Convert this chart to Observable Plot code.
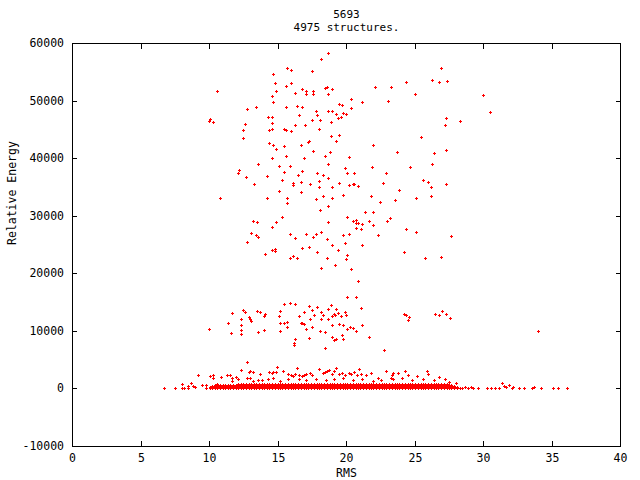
<!DOCTYPE html>
<html><head><meta charset="utf-8">
<script src="https://cdn.jsdelivr.net/npm/d3@7"></script>
<script src="https://cdn.jsdelivr.net/npm/@observablehq/plot@0.6"></script>
<style>html,body{margin:0;padding:0;background:#fff}svg{display:block}</style>
</head><body><div id="chart"></div>
<script>
const title = "5693";
const subtitle = "4975 structures.";
const xLabel = "RMS";
const yLabel = "Relative Energy";
const xTicks = [0, 5, 10, 15, 20, 25, 30, 35, 40];
const yTicks = [-10000, 0, 10000, 20000, 30000, 40000, 50000, 60000];

// scattered high-energy structures [RMS, energy]
const upperPoints = [
[14.7,54700],[15.7,55600],[16.0,55300],[17.5,55100],[14.8,53000],[16.0,53100],[15.6,52600],[10.6,51700],[14.9,51700],[16.8,52000],[17.1,51700],[17.1,51100],[17.6,51700],[17.6,51200],[16.3,51300],[14.6,50800],[14.7,49700],[15.6,48900],[16.4,49000],[16.8,48900],[13.4,48900],[12.8,48500],[17.8,48200],[16.6,47500],[17.9,47500],[14.3,47100],[14.6,47100],[10.1,46800],[10.0,46400],[10.3,46300],[12.6,45900],[14.6,46100],[17.5,46600],[16.3,45700],[17.0,45700],[12.5,44900],[14.4,44900],[14.6,45000],[15.5,45000],[15.6,44900],[16.0,44700],[12.5,43500],[18.0,45000],
[14.4,42600],[14.7,42300],[15.5,42100],[16.7,42300],[17.2,42800],[17.3,43000],[14.9,41600],[17.6,41200],[14.6,40000],[15.6,40400],[16.9,40000],[13.6,39000],[15.1,38600],[15.9,38600],[12.2,37900],[12.1,37400],[15.5,37600],[16.8,37700],[17.9,37400],[12.7,36700],[14.2,36900],[16.5,37000],[15.3,36200],[16.1,35700],[16.1,35300],[16.7,35800],[17.4,35500],[18.0,36000],[18.0,35000],[13.3,35500],[15.1,34300],[16.7,34100],[10.8,33100],[14.2,33100],[15.7,33100],[15.7,32200],[17.8,32900],[15.3,29800],[13.2,29100],[13.5,28900],[14.9,28900],[14.6,28000],[13.1,27000],[13.4,26600],[13.6,26300],[15.9,26800],[16.3,26100],[17.1,26800],[17.8,26800],[17.6,26300],[12.8,25400],[16.8,24400],[17.3,24500],[17.9,23700],[14.8,24200],[14.8,23800],[14.6,24000],[14.1,23300],[15.9,22600],[16.1,23000],[16.4,22600],
[18.7,58300],[18.2,57200],[26.9,55600],[24.4,53200],[26.3,53600],[26.8,53200],[27.4,53400],[18.5,52200],[18.6,52300],[19.0,52000],[22.1,52300],[23.3,52300],[18.7,51100],[25.0,51100],[30.0,51000],[20.4,50300],[21.2,49700],[23.1,49900],[19.5,49400],[19.7,49200],[20.4,48700],[18.7,48200],[19.0,48200],[30.5,48000],[19.3,47700],[19.8,47800],[20.0,47700],[19.6,47100],[19.4,47000],[18.1,46600],[18.9,46300],[27.3,47000],[28.3,46400],[27.2,45700],[18.9,43800],[19.5,44000],[19.3,43000],[25.5,43700],[22.0,42300],[27.3,41400],
[23.7,41100],[26.4,40900],[18.8,41100],[18.5,40400],[20.2,40200],[18.7,39000],[19.9,38300],[21.9,38400],[24.7,38400],[26.3,39000],[20.1,37400],[20.6,37400],[22.9,37400],[18.3,37100],[18.7,36500],[25.6,36200],[26.0,35800],[26.2,35000],[27.3,35500],[19.5,35700],[20.2,35300],[20.5,35500],[20.6,35500],[20.9,35100],[22.7,35700],[19.0,35000],[23.9,34400],[18.3,33400],[19.0,33100],[19.8,33600],[21.8,33400],[25.1,33100],[26.2,33400],[23.6,32700],[22.5,32400],[18.7,31700],[18.1,31000],[21.4,30600],[22.0,30600],[20.1,29800],[20.5,29100],[20.7,29200],[20.7,28700],[20.9,28700],[21.2,28500],[21.7,29100],[22.0,28400],[23.0,29100],[23.2,29600],[18.7,28900],[20.7,27800],[21.1,27700],[24.4,27700],[25.1,27100],[18.2,27100],[19.8,26600],[20.2,26800],[22.3,26600],[27.7,26500],[18.6,25900],[19.0,24900],[19.9,25200],[21.2,24900],[19.4,24000],[20.1,23200],[18.6,22600],[20.0,22500],[24.2,23700],[25.8,22600],[26.9,22800],[19.2,21400],[18.2,20900],[20.4,20700],[20.9,18700]
];

// cluster around 10000
const midPoints = [
[10.0,10300],[11.4,11300],[11.6,9600],[11.7,13100],[12.3,12000],[12.3,11000],[12.3,10100],[12.3,9400],[12.5,13600],[12.6,13200],[12.9,12400],[13.0,12000],[13.1,11700],[13.5,13400],[13.7,13200],[13.6,9800],[14.0,12500],[14.1,12900],[14.0,10100],[15.1,12500],[15.2,13400],[15.2,11300],[15.5,14600],[15.9,14800],[16.3,14600],[15.5,11300],[15.7,11500],[15.7,10600],[15.2,9900],[16.3,8600],[16.2,7900],[16.2,7500],[16.6,12500],[16.7,11300],[16.8,11300],[16.9,11200],[16.9,13200],[17.1,10300],[17.3,14300],[17.3,8700],[17.5,13600],[17.4,12000],[17.5,10600],[17.7,12700],[17.9,14100],[18.1,9900],[18.2,13200],[18.3,12700],[18.2,12000],[18.5,9800],[18.7,13800],[18.9,14500],[18.7,12000],[19.0,11000],[19.0,12500],[19.1,12900],[19.2,12700],[19.3,13800],[19.4,13100],[19.0,8900],[19.1,8400],[19.3,8600],[19.5,11200],[19.8,11000],[19.7,9200],[19.8,8600],[19.6,12500],[19.9,13200],[20.0,12700],[20.1,10300],[20.3,10600],[20.5,10500],[20.7,9900],[20.1,15900],[20.7,15900],[21.1,13900],[21.2,11000],[21.7,8900],[18.5,7000],[22.8,6700],
[24.2,13000],[24.4,12700],[24.6,12400],[24.5,11900],[26.5,13000],[26.8,12700],[27.0,13400],[27.3,12900],[27.6,12300],[34.0,10000]
];

// low-energy structures just above the dense band
const lowPoints = [
[9.2,2360],[10.05,2190],[10.3,2360],[10.3,1840],[10.6,800],[10.9,2010],[11.3,2360],[11.5,2360],[11.7,1840],[12.0,2010],[12.3,3230],[12.8,4620],[12.9,2880],[13.0,3060],[13.2,2880],[12.8,1840],[13.0,1840],[13.55,1490],[13.7,2540],[14.35,2880],[14.6,2710],[14.7,2880],[14.9,2880],[14.95,3750],[15.4,3060],[15.8,2540],[16.0,2360],[16.1,2190],[16.25,2540],[16.4,3580],[16.55,2360],[16.8,2190],[16.9,2360],[17.1,2540],[17.35,2710],[17.5,2360],[18.0,3400],[18.3,2710],[18.45,2880],[18.6,3060],[18.75,3230],[18.95,2540],[19.1,3060],[19.3,3580],[19.5,2540],[19.7,2710],[19.9,2360],[20.2,2710],[20.4,2540],[20.55,2880],[20.8,2360],[21.1,2540],[21.45,2360],[21.8,2710],[20.95,3400],[22.3,1840],[22.9,3060],[23.35,2360],[23.4,2710],[23.8,2710],[23.25,1840],
[11.7,1370],[12.1,1670],[13.2,1370],[13.9,1500],[14.3,1670],[14.65,1800],[15.15,1370],[15.75,1670],[16.6,1670],[17.1,1400],[17.8,1670],[18.55,1500],[19.15,1670],[19.75,1800],[20.5,1400],[21.2,1670],[21.95,1370],[22.55,1500],[23.4,1670],
[24.1,1800],[24.5,2400],[24.8,1500],[25.2,2200],[25.6,1700],[26.0,2500],[26.4,1400],[26.8,2000],[27.2,1600],[27.5,1200],[28.0,900],[24.3,3100],[25.9,3000],
// sparse tails either side of the band
[6.7,100],[7.5,100],[8.0,800],[8.0,0],[8.15,100],[8.5,450],[8.5,100],[8.7,970],[8.8,450],[9.0,280],[9.5,630],[9.8,630],[9.8,100],
[28.5,100],[28.7,300],[28.9,0],[29.1,200],[29.3,0],[29.6,100],[30.3,0],[30.6,0],[30.9,100],[31.2,0],[31.4,900],[31.5,400],[31.7,200],[31.9,600],[32.1,0],[32.2,300],[32.6,0],[33.0,100],[33.6,0],[33.7,200],[34.2,0],[35.1,0],[35.5,0],[36.1,0]
];

// dense band of near-zero energies: RMS positions, energy levels and RMS extent per level
const bandRms = [10.05,10.25,10.45,10.6,10.8,11.0,11.2,11.4,11.55,11.75,11.95,12.15,12.35,12.5,12.7,12.9,13.1,13.3,13.45,13.65,13.85,14.05,14.25,14.4,14.6,14.8,15.0,15.2,15.35,15.55,15.75,15.95,16.15,16.3,16.5,16.7,16.9,17.1,17.25,17.45,17.65,17.85,18.05,18.2,18.4,18.6,18.8,19.0,19.15,19.35,19.55,19.75,19.95,20.1,20.3,20.5,20.7,20.9,21.05,21.25,21.45,21.65,21.85,22.0,22.2,22.4,22.6,22.8,22.95,23.15,23.35,23.55,23.75,23.9,24.1,24.3,24.5,24.7,24.85,25.05,25.25,25.45,25.65,25.8,26.0,26.2,26.4,26.6,26.75,26.95,27.15,27.35,27.55,27.7,27.9,28.1,28.3];
const bandLevels = [0, 170, 340, 510, 680, 850];
const bandExtent = [[10.0,28.4],[10.0,28.2],[10.2,28.0],[10.4,27.8],[11.0,27.6],[12.0,27.4]];

const bandPoints = bandLevels.flatMap((e, i) =>
  bandRms.filter(r => r >= bandExtent[i][0] && r <= bandExtent[i][1]).map(r => [r, e]));

const data = [...bandPoints, ...lowPoints, ...midPoints, ...upperPoints]
  .map(([rms, energy]) => ({rms, energy}));

const plusSymbol = {
  draw(ctx) {
    ctx.moveTo(-1.5, 0); ctx.lineTo(1.5, 0);
    ctx.moveTo(0, -1.5); ctx.lineTo(0, 1.5);
  }
};

const fmt = d => String(d);

const chart = Plot.plot({
  width: 640,
  height: 480,
  marginLeft: 72,
  marginRight: 20,
  marginTop: 43,
  marginBottom: 34,
  style: {fontFamily: "'DejaVu Sans Mono', monospace", fontSize: "11.5px", color: "black", background: "white"},
  x: {domain: [0, 40], round: true},
  y: {domain: [-10000, 60000], round: true},
  marks: [
    Plot.dot(data, {x: "rms", y: "energy", symbol: plusSymbol, r: 2, stroke: "#ff0000", fill: "none", strokeWidth: 1}),
    Plot.frame({stroke: "black"}),
    Plot.axisX(xTicks, {anchor: "bottom", tickSize: -5, tickPadding: 12, tickFormat: fmt, label: null}),
    Plot.axisX(xTicks, {anchor: "top", tickSize: -5, tickFormat: () => "", label: null}),
    Plot.axisY(yTicks, {anchor: "left", tickSize: -5, tickPadding: 13.5, tickFormat: fmt, label: null}),
    Plot.axisY(yTicks, {anchor: "right", tickSize: -5, tickFormat: () => "", label: null}),
    Plot.text([title], {frameAnchor: "top", lineAnchor: "bottom", dy: -25.5, fontSize: 11}),
    Plot.text([subtitle], {frameAnchor: "top", lineAnchor: "bottom", dy: -12.5, fontSize: 11}),
    Plot.text([xLabel], {frameAnchor: "bottom", lineAnchor: "bottom", dy: 30}),
    Plot.text([yLabel], {frameAnchor: "left", rotate: -90, lineAnchor: "middle", dx: -60})
  ]
});
document.getElementById("chart").appendChild(chart);
</script>
</body></html>
